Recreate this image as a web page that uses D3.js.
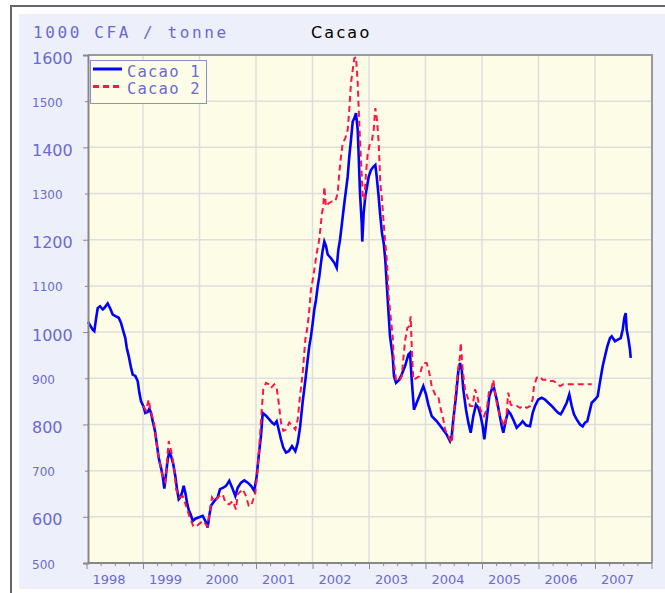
<!DOCTYPE html>
<html>
<head>
<meta charset="utf-8">
<script src="https://cdn.jsdelivr.net/npm/d3@7/dist/d3.min.js"></script>
<style>
    body { margin: 0; background: #ffffff; }
</style>
</head>
<body>
<div id="graph"></div>
<script>

// data (decimal year, 1000 CFA / tonne)
const years1 = [1998.027,1998.110,1998.138,1998.168,1998.198,1998.239,1998.287,1998.315,1998.375,1998.416,1998.464,1998.522,1998.570,1998.611,1998.651,1998.687,1998.712,1998.747,1998.788,1998.818,1998.864,1998.906,1998.935,1998.965,
    1999.005,1999.041,1999.083,1999.111,1999.142,1999.172,1999.212,1999.242,1999.278,1999.319,1999.349,1999.377,1999.407,1999.437,1999.465,1999.496,1999.536,1999.572,1999.602,1999.632,1999.660,1999.690,1999.720,1999.749,1999.779,1999.809,1999.844,1999.880,1999.926,1999.968,
    2000.057,2000.103,2000.145,2000.173,2000.204,2000.262,2000.322,2000.363,2000.421,2000.469,2000.527,2000.588,2000.634,2000.676,2000.735,2000.793,2000.853,2000.912,2000.970,
    2001.012,2001.048,2001.088,2001.119,2001.177,2001.235,2001.283,2001.324,2001.366,2001.402,2001.442,2001.483,2001.531,2001.579,2001.637,2001.696,2001.738,2001.779,2001.827,2001.873,2001.915,2001.943,2001.973,
    2002.004,2002.032,2002.062,2002.092,2002.120,2002.150,2002.181,2002.209,2002.239,2002.269,2002.327,2002.386,2002.428,2002.457,2002.487,2002.522,2002.563,2002.593,2002.623,2002.651,2002.681,2002.712,2002.740,2002.770,2002.800,2002.818,2002.841,2002.871,2002.881,2002.906,2002.935,2002.965,2002.995,
    2003.035,2003.076,2003.112,2003.136,2003.165,2003.195,2003.230,2003.260,2003.288,2003.313,2003.342,2003.372,2003.419,2003.442,2003.478,2003.536,2003.579,2003.637,2003.696,2003.726,2003.756,2003.796,2003.844,2003.903,2003.961,
    2004.009,2004.050,2004.110,2004.198,2004.287,2004.375,2004.434,2004.464,2004.492,2004.540,2004.580,2004.611,2004.641,2004.669,2004.717,2004.758,2004.800,2004.846,2004.894,2004.935,2004.977,
    2005.012,2005.041,2005.083,2005.129,2005.172,2005.212,2005.260,2005.306,2005.349,2005.377,2005.425,2005.465,2005.508,2005.566,2005.614,2005.673,2005.720,2005.779,2005.850,2005.897,2005.938,2005.996,
    2006.057,2006.115,2006.173,2006.234,2006.292,2006.350,2006.393,2006.439,2006.499,2006.545,2006.588,2006.628,2006.676,2006.735,2006.782,2006.823,2006.864,2006.899,2006.942,
    2007.000,2007.048,2007.076,2007.106,2007.136,2007.177,2007.218,2007.265,2007.295,2007.354,2007.412,2007.455,2007.490,2007.519,2007.543,2007.561,2007.589,2007.619,2007.632];

const cacao1 = [1022,1005,1002,1028,1052,1056,1049,1052,1062,1052,1038,1034,1031,1020,1002,987,966,948,923,908,905,894,869,850,
    840,825,827,834,825,807,786,760,728,706,688,661,692,724,740,732,714,688,660,638,642,652,667,652,631,615,605,591,596,598,
    602,591,577,602,624,634,642,660,663,667,678,660,645,663,674,679,674,667,656,
    688,732,775,825,819,811,804,800,807,789,768,750,739,742,753,742,760,793,850,895,941,969,991,
    1020,1049,1070,1099,1120,1150,1178,1196,1186,1168,1160,1150,1139,1178,1200,1236,1279,1308,1337,1380,1416,1456,1463,1474,1438,1380,1301,1236,1196,1258,1294,1315,1337,
    1351,1358,1362,1337,1301,1258,1214,1193,1157,1106,1049,991,948,905,890,897,908,926,951,955,897,832,847,865,883,
    865,843,818,807,793,778,764,775,811,861,915,933,919,876,832,804,782,818,843,836,818,
    796,768,811,861,876,879,854,825,796,782,811,829,822,807,793,800,807,798,796,825,840,854,
    858,854,847,840,832,825,822,832,847,865,840,822,811,800,796,804,807,825,847,
    854,861,883,905,926,948,969,987,991,980,984,987,1005,1031,1041,1005,987,962,944];

const years2 = [1999.005,1999.053,1999.101,1999.133,1999.195,1999.260,1999.319,1999.359,1999.395,1999.455,1999.513,1999.554,1999.584,1999.642,1999.703,1999.761,1999.819,1999.890,1999.938,
    2000.057,2000.145,2000.221,2000.262,2000.350,2000.411,2000.457,2000.527,2000.588,2000.646,2000.676,2000.765,2000.823,2000.871,2000.912,2000.952,2000.988,
    2001.030,2001.058,2001.101,2001.129,2001.177,2001.225,2001.265,2001.324,2001.366,2001.402,2001.442,2001.483,2001.531,2001.589,2001.650,2001.696,2001.738,2001.779,2001.827,2001.873,2001.903,2001.933,2001.973,
    2002.014,2002.050,2002.074,2002.110,2002.138,2002.168,2002.191,2002.209,2002.239,2002.287,2002.345,2002.404,2002.446,2002.474,2002.504,2002.535,2002.581,2002.623,2002.651,2002.681,2002.712,2002.740,2002.770,2002.800,2002.828,2002.858,2002.889,2002.917,2002.947,2002.977,
    2003.018,2003.053,2003.083,2003.112,2003.142,2003.172,2003.200,2003.230,2003.260,2003.288,2003.319,2003.349,2003.377,2003.419,2003.442,2003.478,2003.536,2003.579,2003.607,2003.637,2003.678,2003.713,2003.738,2003.756,2003.784,2003.844,2003.890,2003.933,2003.973,
    2004.021,2004.067,2004.110,2004.168,2004.227,2004.257,2004.315,2004.345,2004.404,2004.464,2004.492,2004.522,2004.580,2004.611,2004.623,2004.658,2004.699,2004.740,2004.788,2004.835,2004.876,2004.917,2004.952,2004.994,
    2005.035,2005.083,2005.129,2005.172,2005.200,2005.230,2005.271,2005.319,2005.366,2005.407,2005.437,2005.465,2005.508,2005.554,2005.614,2005.673,2005.731,2005.791,2005.850,2005.897,2005.920,2005.968,
    2006.014,2006.074,2006.145,2006.204,2006.262,2006.322,2006.381,2006.439,2006.558,2006.676,2006.793,2006.942];

const cacao2 = [840,830,854,830,804,740,703,681,675,764,735,703,660,642,645,624,602,580,579,
    591,580,642,634,645,649,631,627,634,616,649,660,645,624,624,638,652,
    703,753,832,876,890,887,879,887,879,847,804,786,789,804,796,789,811,861,912,984,1005,1034,1092,
    1120,1150,1171,1193,1222,1258,1272,1315,1272,1279,1283,1283,1301,1344,1380,1409,1420,1438,1481,1539,1568,1593,1596,1539,1452,1373,1294,1286,1344,1387,
    1409,1416,1438,1485,1459,1409,1323,1286,1236,1193,1150,1077,1041,991,933,897,894,904,941,980,1009,1013,1034,969,897,901,904,923,933,
    933,912,883,865,861,840,811,789,775,760,796,854,923,948,977,919,876,861,840,840,876,861,840,825,
    818,832,876,879,897,869,840,818,804,796,825,869,843,840,840,836,840,836,840,854,883,901,
    904,897,897,894,894,890,883,887,887,887,887,887];

const seriesNames = ["Cacao 1", "Cacao 2"];
const yearLabels = ["1998","1999","2000","2001","2002","2003","2004","2005","2006","2007"];
const yTicks = [500,600,700,800,900,1000,1100,1200,1300,1400,1500,1600];

// colours
const labelColor = "#6a6ad2";
const blue = "#0000ff";
const red = "#ff1447";

// 1. svg + margins
let vis = {};
vis.plot = {left: 88, top: 55, right: 652, bottom: 563};

vis.svg = d3.select("#graph").append("svg")
    .attr("width", 665)
    .attr("height", 593)
    .style("display", "block");

// outer frame and panel
vis.svg.append("rect")
    .attr("x", 11).attr("y", 6).attr("width", 700).attr("height", 620)
    .attr("fill", "#ffffff").attr("stroke", "#666666").attr("stroke-width", 2);
vis.svg.append("rect")
    .attr("x", 19).attr("y", 14).attr("width", 660).attr("height", 575)
    .attr("fill", "#edf0fa");

// plot background
vis.svg.append("rect")
    .attr("x", vis.plot.left).attr("y", vis.plot.top)
    .attr("width", vis.plot.right - vis.plot.left)
    .attr("height", vis.plot.bottom - vis.plot.top)
    .attr("fill", "#fdfce6");

// 2. scales
vis.xScale = d3.scaleLinear()
    .domain([1998, 2008])
    .range([86.5, 651.5]);

vis.yScale = d3.scaleLinear()
    .domain([500, 1600])
    .range([vis.plot.bottom, vis.plot.top]);

// 3. grid
vis.svg.append("g").selectAll("line")
    .data(yTicks.slice(1, -1))
    .enter().append("line")
    .attr("x1", vis.plot.left).attr("x2", vis.plot.right)
    .attr("y1", d => vis.yScale(d)).attr("y2", d => vis.yScale(d))
    .attr("stroke", "#dedede").attr("stroke-width", 1.5);

vis.svg.append("g").selectAll("line")
    .data(d3.range(1999, 2008))
    .enter().append("line")
    .attr("x1", d => vis.xScale(d)).attr("x2", d => vis.xScale(d))
    .attr("y1", vis.plot.top).attr("y2", vis.plot.bottom)
    .attr("stroke", "#dedede").attr("stroke-width", 1.5);

// plot border (top / right)
vis.svg.append("path")
    .attr("d", `M${vis.plot.left},${vis.plot.top}H${vis.plot.right}V${vis.plot.bottom}`)
    .attr("fill", "none").attr("stroke", "#9a9a9a").attr("stroke-width", 2);

// 4. lines
vis.line = d3.line()
    .x(d => vis.xScale(d[0]))
    .y(d => vis.yScale(d[1]));

const data1 = years1.map((y, i) => [y, cacao1[i]]);
const data2 = years2.map((y, i) => [y, cacao2[i]]);

vis.svg.append("path")
    .datum(data1)
    .attr("d", vis.line)
    .attr("fill", "none")
    .attr("stroke", blue)
    .attr("stroke-width", 2.6)
    .attr("stroke-linejoin", "miter");

vis.svg.append("path")
    .datum(data2)
    .attr("d", vis.line)
    .attr("fill", "none")
    .attr("stroke", red)
    .attr("stroke-width", 2)
    .attr("stroke-dasharray", "6,4");

// 5. axes
vis.yAxis = vis.svg.append("g")
    .attr("transform", `translate(${vis.plot.left},0)`)
    .call(d3.axisLeft(vis.yScale).tickValues(yTicks).tickSize(5).tickFormat(""));
vis.yAxis.selectAll(".tick line")
    .attr("x2", d => (d % 200 === 0 ? -5 : -3))
    .attr("stroke", "#888888");
vis.yAxis.select(".domain").attr("stroke", "#888888").attr("stroke-width", 2);

const quarters = d3.range(1998, 2008.01, 0.25);
vis.xAxis = vis.svg.append("g")
    .attr("transform", `translate(0,${vis.plot.bottom})`)
    .call(d3.axisBottom(vis.xScale).tickValues(quarters).tickSize(5).tickSizeOuter(0).tickFormat(""));
vis.xAxis.selectAll(".tick line")
    .attr("y2", d => (Math.abs(d - Math.round(d)) < 0.01 ? 6 : 3))
    .attr("stroke", "#888888");
vis.xAxis.select(".domain")
    .attr("d", `M${vis.plot.left},0H${vis.plot.right}`)
    .attr("stroke", "#888888").attr("stroke-width", 2);

// y labels (left aligned, big/small alternating)
vis.svg.append("g").selectAll("text")
    .data(yTicks)
    .enter().append("text")
    .attr("x", 32)
    .attr("y", d => vis.yScale(d) + (d % 200 === 0 ? 8.5 : 5.5))
    .attr("font-family", "DejaVu Sans, Verdana, sans-serif")
    .attr("font-size", d => (d % 200 === 0 ? 16 : 12))
    .attr("fill", labelColor)
    .text(d => d);

// x labels
vis.svg.append("g").selectAll("text")
    .data(yearLabels)
    .enter().append("text")
    .attr("x", d => vis.xScale(+d) + 6)
    .attr("y", 584)
    .attr("font-family", "DejaVu Sans, Verdana, sans-serif")
    .attr("font-size", 13)
    .attr("fill", labelColor)
    .text(d => d);

// 6. titles
vis.svg.append("text")
    .attr("x", 33).attr("y", 38)
    .attr("font-family", "DejaVu Sans Mono, monospace")
    .attr("font-size", 16)
    .attr("letter-spacing", 2.6)
    .attr("fill", labelColor)
    .text("1000 CFA / tonne");

vis.svg.append("text")
    .attr("x", 311).attr("y", 38)
    .attr("font-family", "DejaVu Sans, Verdana, sans-serif")
    .attr("font-size", 16)
    .attr("letter-spacing", 2.2)
    .attr("fill", "#000000")
    .text("Cacao");

// 7. legend
vis.legend = vis.svg.append("g");
vis.legend.append("rect")
    .attr("x", 90.5).attr("y", 60.5).attr("width", 116).attr("height", 43)
    .attr("fill", "#fdfce6").attr("stroke", "#8c8cdc").attr("stroke-width", 1);

vis.legend.selectAll(".sw")
    .data(seriesNames)
    .enter().append("line")
    .attr("x1", 93).attr("x2", 122)
    .attr("y1", (d, i) => 69 + i * 17.5).attr("y2", (d, i) => 69 + i * 17.5)
    .attr("stroke", (d, i) => (i === 0 ? blue : red))
    .attr("stroke-width", 3)
    .attr("stroke-dasharray", (d, i) => (i === 0 ? null : "6,4"));

vis.legend.selectAll(".lt")
    .data(seriesNames)
    .enter().append("text")
    .attr("x", 127)
    .attr("y", (d, i) => 76.5 + i * 17.5)
    .attr("font-family", "DejaVu Sans Mono, monospace")
    .attr("font-size", 15.5)
    .attr("letter-spacing", 1.2)
    .attr("fill", labelColor)
    .text(d => d);

</script>
</body>
</html>
